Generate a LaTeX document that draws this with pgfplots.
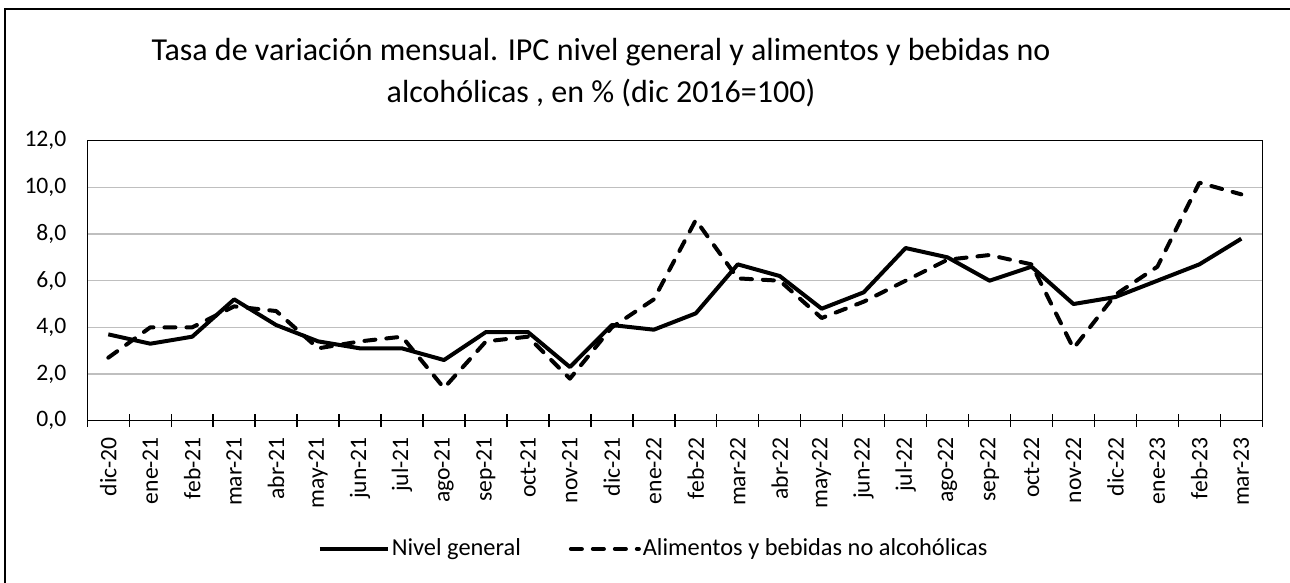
\documentclass[border=0pt]{standalone}
\usepackage{fontspec}
\setmainfont{Carlito}
\usepackage{pgfplots}
\pgfplotsset{compat=1.18}
\begin{document}
\begin{tikzpicture}
\useasboundingbox (0,0) rectangle (645pt,291.5pt);
\fill[white] (0,0) rectangle (645pt,291.5pt);
\draw[line width=0.8pt] (2.5pt,0) -- (2.5pt,287pt) -- (645pt,287pt);
\node[align=center, font=\fontsize{16}{21}\selectfont] at (300.5pt,255pt)
  {Tasa de variación mensual. IPC nivel general y alimentos y bebidas no\\alcohólicas , en \% (dic 2016=100)};
\begin{axis}[
  at={(43.65pt,81.15pt)}, anchor=south west,
  scale only axis, width=587.5pt, height=140pt,
  xmin=-0.5, xmax=27.5, ymin=0, ymax=12,
  ytick={0,2,...,12},
  xtick={0,...,27},
  xticklabels={dic-20,ene-21,feb-21,mar-21,abr-21,may-21,jun-21,jul-21,ago-21,sep-21,oct-21,nov-21,dic-21,ene-22,feb-22,mar-22,abr-22,may-22,jun-22,jul-22,ago-22,sep-22,oct-22,nov-22,dic-22,ene-23,feb-23,mar-23},
  minor xtick={-0.5,0.5,...,27.5},
  xtick pos=bottom,
  major tick length=0pt,
  minor tick length=6.5pt,
  tick align=center,
  xtick style={draw=none},
  minor x tick style={draw=black, line width=0.7pt},
  ytick style={draw=none},
  ymajorgrids,
  major grid style={draw=black!25, line width=0.65pt},
  axis line style={line width=0.7pt},
  /pgf/number format/assume math mode=true,
  yticklabel={\pgfmathprintnumber[fixed,fixed zerofill,precision=1,use comma]{\tick}},
  tick label style={font=\fontsize{11.8}{14}\selectfont},
  yticklabel style={anchor=east, inner sep=0pt},
  yticklabel shift=10.3pt,
  xticklabel style={rotate=90, anchor=east, inner sep=0pt},
  xticklabel shift=8pt,
  legend columns=2,
  legend style={at={(0.482,-0.458)}, anchor=center, draw=none, fill=none,
    font=\fontsize{12.2}{14}\selectfont,
    nodes={inner sep=1pt},
    /tikz/every even column/.append style={column sep=23pt}},
  legend image code/.code={\draw[#1] (0pt,0pt) -- (34pt,0pt);},
]
\addplot[black, line width=2pt, line join=round] coordinates {
(0,3.7) (1,3.3) (2,3.6) (3,5.2) (4,4.1) (5,3.4) (6,3.1) (7,3.1) (8,2.6) (9,3.8)
(10,3.8) (11,2.3) (12,4.1) (13,3.9) (14,4.6) (15,6.7) (16,6.2) (17,4.8) (18,5.5) (19,7.4)
(20,7.0) (21,6.0) (22,6.6) (23,5.0) (24,5.3) (25,6.0) (26,6.7) (27,7.8)};
\addlegendentry{Nivel general}
\addplot[black, line width=2pt, line cap=round, line join=round, dash pattern=on 5.5pt off 5.5pt] coordinates {
(0,2.7) (1,4.0) (2,4.0) (3,4.9) (4,4.7) (5,3.1) (6,3.4) (7,3.6) (8,1.4) (9,3.4)
(10,3.6) (11,1.8) (12,4.0) (13,5.2) (14,8.6) (15,6.1) (16,6.0) (17,4.4) (18,5.1) (19,6.0)
(20,6.9) (21,7.1) (22,6.7) (23,3.1) (24,5.4) (25,6.6) (26,10.2) (27,9.7)};
\addlegendentry{Alimentos y bebidas no alcohólicas}
\end{axis}
\end{tikzpicture}
\end{document}
